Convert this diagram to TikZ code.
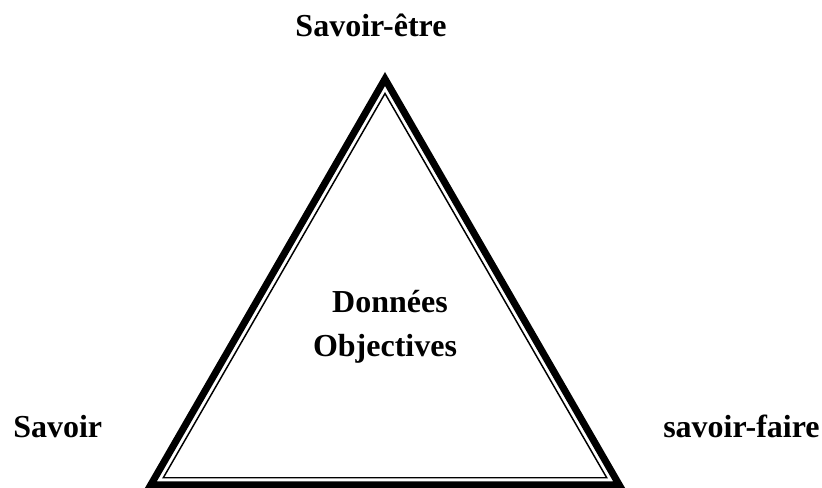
\documentclass[tikz,border=0pt]{standalone}
\usepackage{fontspec}
\setmainfont{Liberation Serif}
\begin{document}
\begin{tikzpicture}[x=0.75pt,y=-0.75pt,
        lbl/.style={inner sep=0pt,font=\bfseries\fontsize{24}{29}\selectfont}]
            \useasboundingbox (0,0) rectangle (822,488);
            % outer thick line
            \coordinate (top) at (385,79);
            \coordinate (bl) at (150.7,485);
            \coordinate (br) at (619.3,485);
            \draw [line width=5.25pt, miter limit=20] (top) -- (bl) -- (br) -- cycle;
            % inner thin line
            \coordinate (itop) at (385,93.5);
            \coordinate (ibl) at (163.3,477.75);
            \coordinate (ibr) at (606.7,477.75);
            \draw [line width=1.1pt, miter limit=20] (itop) -- (ibl) -- (ibr) -- cycle;

            \node[lbl, anchor=base] (etre) at (371,37) {Savoir-être};
            \node[lbl, anchor=base] (donnees) at (390,313) {Données};
            \node[lbl, anchor=base] (objectives) at (385,357) {Objectives};
            \node[lbl, anchor=base west] (savoir) at (13,438) {Savoir};
            \node[lbl, anchor=base west] (faire) at (663,438) {savoir-faire};
\end{tikzpicture}
\end{document}
